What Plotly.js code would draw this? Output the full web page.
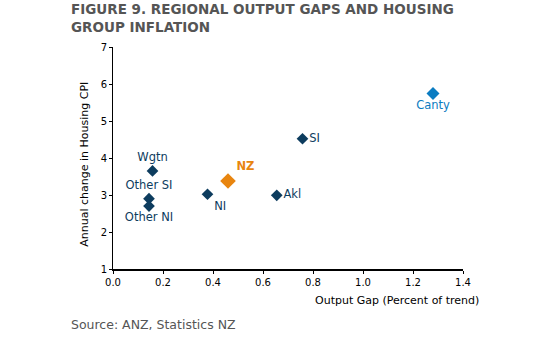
<!DOCTYPE html>
<html><head><meta charset="utf-8">
<script src="https://cdn.plot.ly/plotly-3.0.1.min.js"></script>
<style>body{margin:0;background:#fff}#c{width:550px;height:337px}</style>
</head><body><div id="c"></div>
<script>
const regions = ["Wgtn","Other SI","Other NI","NI","Akl","SI"];
const outputGap = [0.158,0.144,0.144,0.378,0.655,0.758];
const housingCPI = [3.65,2.90,2.70,3.02,2.99,4.52];
const regionPos = ["top center","top center","bottom center","bottom right","middle right","middle right"];
const nzLabel = ["NZ"], nzGap = [0.46], nzCPI = [3.38];
const cantyLabel = ["Canty"], cantyGap = [1.28], cantyCPI = [5.74];
const xTicks = [0,0.2,0.4,0.6,0.8,1.0,1.2,1.4];
const xTickText = ["0.0","0.2","0.4","0.6","0.8","1.0","1.2","1.4"];
const yTicks = [1,2,3,4,5,6,7];
const titleText = "FIGURE 9. REGIONAL OUTPUT GAPS AND HOUSING<br>GROUP INFLATION";
const xTitle = "Output Gap (Percent of trend)";
const yTitle = "Annual change in Housing CPI";
const sourceText = "Source: ANZ, Statistics NZ";

const navy = "#0d3c5e", blue = "#0b7cc1", orange = "#e8850f";
const F = "DejaVu Sans, Verdana, sans-serif";
const traces = [
 {x: outputGap, y: housingCPI, text: regions, mode: "markers+text", type: "scatter",
  textposition: regionPos, marker: {symbol: "diamond", size: 9, color: navy},
  textfont: {family: F, size: 11.5, color: navy}, cliponaxis: false},
 {x: cantyGap, y: cantyCPI, text: cantyLabel, mode: "markers+text", type: "scatter",
  textposition: "bottom center", marker: {symbol: "diamond", size: 10, color: blue},
  textfont: {family: F, size: 11.5, color: blue}, cliponaxis: false},
 {x: nzGap, y: nzCPI, text: nzLabel, mode: "markers+text", type: "scatter",
  textposition: "top right", marker: {symbol: "diamond", size: 12, color: orange},
  textfont: {family: F, size: 11.5, color: orange, weight: "bold"}, cliponaxis: false}
];
const layout = {
 width: 550, height: 337, showlegend: false,
 margin: {l: 113, r: 87, t: 47, b: 68},
 paper_bgcolor: "#fff", plot_bgcolor: "#fff",
 font: {family: F, size: 10, color: "#000"},
 xaxis: {range: [0, 1.4], tickvals: xTicks, ticktext: xTickText, showgrid: false, zeroline: false,
   showline: true, linecolor: "#000", linewidth: 1.5, ticks: "outside", ticklen: 3, tickcolor: "#000",
   tickfont: {family: F, size: 10, color: "#000"}},
 yaxis: {range: [1, 7], tickvals: yTicks, showgrid: false, zeroline: false,
   showline: true, linecolor: "#000", linewidth: 1, ticks: "outside", ticklen: 3, tickcolor: "#000",
   tickfont: {family: F, size: 10, color: "#000"}},
 annotations: [
  {text: titleText, xref: "paper", yref: "paper",
   x: -0.125, y: 1.215, xanchor: "left", yanchor: "top", showarrow: false, align: "left",
   font: {family: F, size: 13.5, color: "#555", weight: "bold"}},
  {text: xTitle, xref: "paper", yref: "paper", x: 1.052, y: -0.14,
   xanchor: "right", yanchor: "middle", showarrow: false, font: {family: F, size: 11, color: "#000"}},
  {text: yTitle, xref: "paper", yref: "paper", x: -0.08, y: 0.47, textangle: -90,
   xanchor: "center", yanchor: "middle", showarrow: false, font: {family: F, size: 11, color: "#000"}},
  {text: sourceText, xref: "paper", yref: "paper", x: -0.125, y: -0.205,
   xanchor: "left", yanchor: "top", showarrow: false, font: {family: F, size: 12.5, color: "#555"}}
 ]
};
Plotly.newPlot("c", traces, layout, {staticPlot: true});
</script></body></html>
